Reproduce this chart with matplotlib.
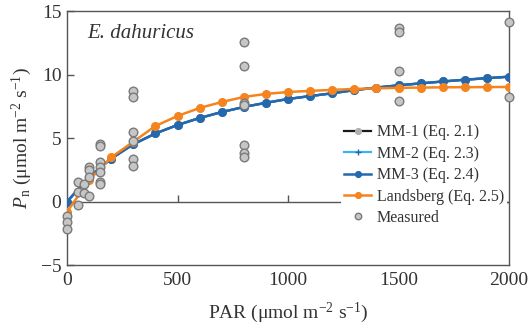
import matplotlib
matplotlib.use("Agg")
import matplotlib.pyplot as plt

plt.rcParams["font.family"] = ["Liberation Serif", "DejaVu Serif"]
plt.rcParams["mathtext.fontset"] = "custom"
plt.rcParams["mathtext.rm"] = "Liberation Serif"
plt.rcParams["mathtext.it"] = "Liberation Serif:italic"
plt.rcParams["axes.unicode_minus"] = True

# Model curves evaluated every 100 µmol m-2 s-1
par_model = [0, 100, 200, 300, 400, 500, 600, 700, 800, 900, 1000,
             1100, 1200, 1300, 1400, 1500, 1600, 1700, 1800, 1900, 2000]
mm1 = [0.0, 1.95, 3.4, 4.53, 5.38, 6.05, 6.6, 7.07, 7.47, 7.8, 8.1,
       8.33, 8.55, 8.8, 9.0, 9.18, 9.33, 9.48, 9.62, 9.74, 9.86]
mm2 = [0.0, 1.95, 3.4, 4.53, 5.38, 6.05, 6.6, 7.07, 7.47, 7.8, 8.1,
       8.33, 8.55, 8.8, 9.0, 9.18, 9.33, 9.48, 9.62, 9.74, 9.86]
mm3 = [0.0, 1.95, 3.4, 4.53, 5.38, 6.05, 6.6, 7.07, 7.47, 7.8, 8.1,
       8.33, 8.55, 8.8, 9.0, 9.18, 9.33, 9.48, 9.62, 9.74, 9.86]
landsberg = [-0.8, 1.7, 3.5, 4.73, 5.97, 6.76, 7.39, 7.86, 8.26, 8.5, 8.65,
             8.74, 8.82, 8.89, 8.94, 8.98, 9.0, 9.02, 9.03, 9.04, 9.05]

# Measured net photosynthesis
par_meas = [0, 0, 0,
            50, 50, 50,
            75, 75,
            100, 100, 100, 100,
            150, 150, 150, 150, 150, 150, 150,
            300, 300, 300, 300, 300, 300,
            800, 800, 800, 800, 800, 800, 800,
            1500, 1500, 1500, 1500,
            2000, 2000]
pn_meas = [-1.1, -1.58, -2.18,
           1.53, 0.74, -0.26,
           1.4, 0.66,
           2.76, 2.5, 1.97, 0.45,
           4.55, 4.42, 3.1, 2.76, 2.37, 1.58, 1.4,
           8.75, 8.25, 5.47, 4.81, 3.37, 2.84,
           12.6, 10.7, 7.8, 7.6, 4.47, 3.86, 3.5,
           13.7, 13.4, 10.33, 7.94,
           14.2, 8.28]

x_ticks = [0, 500, 1000, 1500, 2000]
y_ticks = [-5, 0, 5, 10, 15]

text_col = "#333333"
spine_col = "#555555"
c_mm1 = "#1a1a1a"
c_mm2 = "#3bb5ee"
c_mm3 = "#2468ae"
c_land = "#f5841f"
c_meas_face = "#c6c6c6"
c_meas_edge = "#7a7a7a"

fig = plt.figure(figsize=(5.31, 3.31), dpi=100)
ax = fig.add_axes([0.1262, 0.199, 0.8324, 0.7663])

ax.plot(par_model, mm1, color=c_mm1, lw=1.6, marker="o", ms=5.5,
        mfc="#b0b0b0", mec="#b0b0b0", label="MM-1 (Eq. 2.1)", zorder=3)
ax.plot(par_model, mm2, color=c_mm2, lw=1.6, marker="+", ms=6,
        mec=c_mm3, label="MM-2 (Eq. 2.3)", zorder=3.1)
ax.plot(par_model, mm3, color=c_mm3, lw=1.8, marker="o", ms=5.5,
        mfc=c_mm3, mec=c_mm3, label="MM-3 (Eq. 2.4)", zorder=3.2)
ax.plot(par_model, landsberg, color=c_land, lw=1.8, marker="o", ms=5.5,
        mfc=c_land, mec=c_land, label="Landsberg (Eq. 2.5)", zorder=3.3)
ax.plot(par_meas, pn_meas, ls="none", marker="o", ms=6.2, mfc=c_meas_face,
        mec=c_meas_edge, mew=1.0, label="Measured", zorder=4, clip_on=False)

# Zero reference line with upward ticks
ax.axhline(0, color=spine_col, lw=1.0, zorder=1)
ax.plot(x_ticks[1:-1], [0] * (len(x_ticks) - 2), ls="none", marker=2,
        ms=5, mew=1.0, color=spine_col, zorder=1)
ax.plot([x_ticks[-1]], [0], ls="none", marker=0, ms=5, mew=1.0,
        color=spine_col, zorder=1, clip_on=False)

ax.set_xlim(0, 2000)
ax.set_ylim(-5, 15)
ax.set_xticks(x_ticks)
ax.set_yticks(y_ticks)
ax.set_xticklabels([str(v) for v in x_ticks])
ax.set_yticklabels([str(v).replace("-", "\u2212") for v in y_ticks])
ax.tick_params(axis="x", length=0, pad=5, labelsize=14, colors=text_col)
ax.tick_params(axis="y", direction="in", length=5, width=1.0, pad=4,
               labelsize=14, colors=text_col)
ax.tick_params(axis="y", color=spine_col)
for s in ax.spines.values():
    s.set_color(spine_col)
    s.set_linewidth(1.0)

ax.set_xlabel("PAR (\u03bcmol m$^{-2}$ s$^{-1}$)", fontsize=14,
              color=text_col, labelpad=8)
ax.set_ylabel("$P_{\\mathrm{n}}$ (\u03bcmol m$^{-2}$ s$^{-1}$)", fontsize=14,
              color=text_col, labelpad=5)

ax.text(0.045, 0.915, "E. dahuricus", transform=ax.transAxes, fontsize=15,
        style="italic", color=text_col, ha="left", va="center")

leg = ax.legend(loc="upper left", bbox_to_anchor=(0.62, 0.568),
                fontsize=11.5, frameon=True, framealpha=1.0,
                facecolor="white", edgecolor="none", handlelength=1.7,
                handletextpad=0.35, labelspacing=0.34, borderpad=0.2,
                borderaxespad=0.0, markerscale=0.75)
for t in leg.get_texts():
    t.set_color(text_col)
leg.set_zorder(10)

fig.savefig("out.png", dpi=100)
